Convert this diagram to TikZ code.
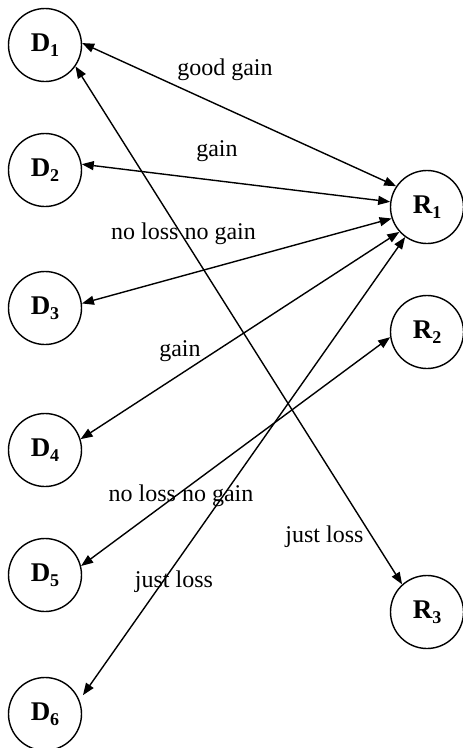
\documentclass[tikz,border=0pt]{standalone}
\usepackage{fontspec}
\setmainfont{Liberation Serif}
\usetikzlibrary{arrows.meta}
\newcommand{\stlab}[2]{\fontsize{27}{27}\selectfont\bfseries #1\raisebox{-0.2em}{\fontsize{18}{18}\selectfont #2}}
\begin{document}
\begin{tikzpicture}[x=1pt,y=-1pt,
  st/.style={circle,draw,line width=1.4pt,minimum size=73pt,inner sep=0pt},
  link/.style={line width=1.4pt,{Triangle[length=12pt,width=9pt]}-{Triangle[length=12pt,width=9pt]}},
  lbl/.style={font=\fontsize{24}{24}\selectfont,inner sep=0pt}]
\useasboundingbox (0,0) rectangle (463,748);
\node[st] (D1) at (45,45) {\stlab{D}{1}};
\node[st] (D2) at (45,170) {\stlab{D}{2}};
\node[st] (D3) at (45,308) {\stlab{D}{3}};
\node[st] (D4) at (45,450) {\stlab{D}{4}};
\node[st] (D5) at (45,575) {\stlab{D}{5}};
\node[st] (D6) at (45,714) {\stlab{D}{6}};
\node[st] (R1) at (427,207) {\stlab{R}{1}};
\node[st] (R2) at (427,332) {\stlab{R}{2}};
\node[st] (R3) at (427,612) {\stlab{R}{3}};
\draw[link] (D1.3) -- (R1.146);
\draw[link] (D2.9) -- (R1.172);
\draw[link] (D3.7) -- (R1.198);
\draw[link] (D4.17) -- (R1.222);
\draw[link,shorten <=6pt] (D6.22) -- (R1.234);
\draw[link] (D5.14) -- (R2.188);
\draw[link] (D1.-35) -- (R3.132);
\node[lbl] (l1) at (225,70) {good gain};
\node[lbl] (l2) at (217,151) {gain};
\node[lbl] (l3) at (183.5,234) {no loss no gain};
\node[lbl] (l4) at (180,351) {gain};
\node[lbl] (l5) at (181,496) {no loss no gain};
\node[lbl] (l6) at (324.5,537) {just loss};
\node[lbl] (l7) at (174,582) {just loss};
\end{tikzpicture}
\end{document}
